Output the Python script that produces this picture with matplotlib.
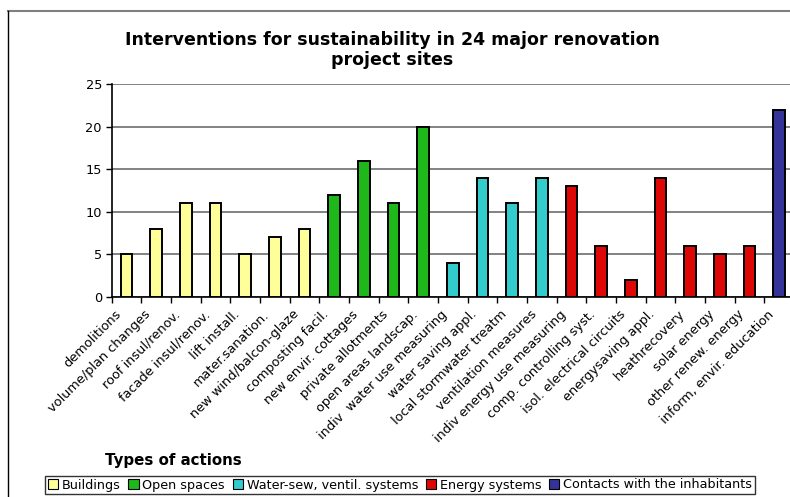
import numpy as np
import matplotlib
matplotlib.use("Agg")
import matplotlib.pyplot as plt
import matplotlib.transforms as mtransforms
from matplotlib.patches import Patch
from matplotlib.lines import Line2D

# categories and counts (number of project sites)
actions = ["demolitions", "volume/plan changes", "roof insul/renov.", "facade insul/renov.",
           "lift install.", "mater.sanation.", "new wind/balcon-glaze", "composting facil.",
           "new envir. cottages", "private allotments", "open areas landscap.",
           "indiv  water use measuring", "water saving appl.", "local stormwater treatm",
           "ventilation measures", "indiv energy use measuring", "comp. controlling syst.",
           "isol. electrical circuits", "energysaving appl.", "heathrecovery", "solar energy",
           "other renew. energy", "inform, envir. education"]
counts = [5, 8, 11, 11, 5, 7, 8, 12, 16, 11, 20, 4, 14, 11, 14, 13, 6, 2, 14, 6, 5, 6, 22]
groups = [0] * 7 + [1] * 4 + [2] * 4 + [3] * 7 + [4]

group_names = ["Buildings", "Open spaces", "Water-sew, ventil. systems",
               "Energy systems", "Contacts with the inhabitants"]
group_colors = ["#FFFF99", "#1FB81A", "#33CCCC", "#DD0806", "#333399"]

plt.rcParams["font.family"] = "DejaVu Sans"

fig = plt.figure(figsize=(7.9, 4.97), dpi=100)
W, H = 790, 497
ax = fig.add_axes([111.7 / W, 1 - 296.7 / H, (794 - 111.7) / W, (296.7 - 84) / H])

x = np.arange(len(actions))
colors = [group_colors[g] for g in groups]
ax.bar(x, counts, width=0.4, color=colors, edgecolor="black", linewidth=1.4, zorder=3)

ax.set_xlim(-0.5, len(actions) - 0.5)
ax.set_ylim(0, 25)
ax.set_yticks(range(0, 26, 5))
ax.yaxis.grid(True, color="#606060", linewidth=1.1, zorder=0)
for s in ["top", "right"]:
    ax.spines[s].set_visible(False)
ax.spines["left"].set_linewidth(1.2)
ax.spines["bottom"].set_linewidth(1.2)

ax.set_xticks(x)
ax.set_xticklabels(actions, rotation=45, ha="right", rotation_mode="anchor", fontsize=9.3)
ax.tick_params(axis="x", length=0, pad=8)
shift = mtransforms.ScaledTranslation(-12 / 100, 0, fig.dpi_scale_trans)
for lab in ax.get_xticklabels():
    lab.set_transform(lab.get_transform() + shift)
ax.set_xticks(np.arange(-0.5, len(actions)), minor=True)
ax.tick_params(axis="x", which="minor", length=4, width=1, direction="out")
ax.tick_params(axis="y", length=4, width=1, labelsize=9.3, pad=3)

fig.text(392 / W, 1 - 50 / H, "Interventions for sustainability in 24 major renovation\nproject sites",
         ha="center", va="center", fontsize=12.5, fontweight="bold", linespacing=1.12)

fig.text(105 / W, 1 - 461 / H, "Types of actions", ha="left", va="center",
         fontsize=10.8, fontweight="bold")

handles = [Patch(facecolor=c, edgecolor="black", linewidth=0.8) for c in group_colors]
leg = fig.legend(handles, group_names, loc="center", bbox_to_anchor=(400 / W, 1 - 485 / H),
                 ncol=5, fontsize=9.2, frameon=True, fancybox=False, handlelength=0.8,
                 handleheight=0.8, handletextpad=0.3, columnspacing=0.6, borderpad=0.2)
leg.get_frame().set_edgecolor("black")
leg.get_frame().set_linewidth(1.0)

# outer frame of the chart area
fig.add_artist(Line2D([8 / W, 1], [1 - 11 / H, 1 - 11 / H], color="#808080", linewidth=1.5))
fig.add_artist(Line2D([8 / W, 8 / W], [0, 1 - 11 / H], color="black", linewidth=1.0))

fig.savefig("out.png", dpi=100)
